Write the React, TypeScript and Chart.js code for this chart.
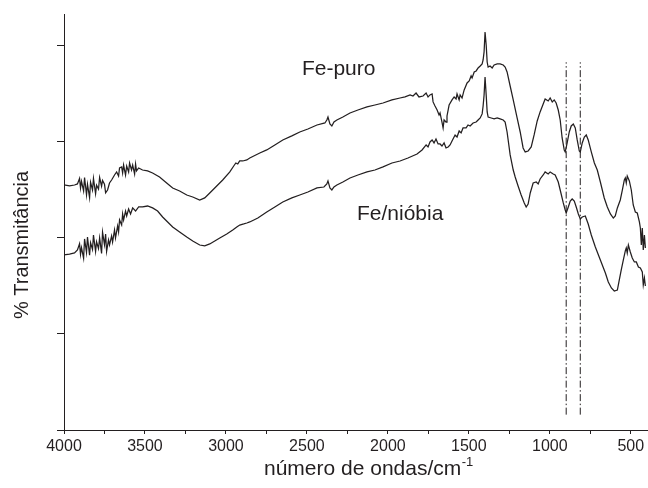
import React, { useEffect, useRef } from 'react';
import { Chart, registerables } from 'chart.js';

Chart.register(...registerables);

// Fe-puro spectrum (wavenumber, cm-1 / transmittance, arbitrary %)
const fePuroWn = [4000, 3966, 3935, 3917, 3904, 3898, 3892, 3879, 3873, 3861, 3855, 3842, 3836, 3824, 3818, 3805, 3799, 3787, 3780, 3768, 3762, 3750, 3743, 3731, 3719, 3706, 3688, 3675, 3663, 3657, 3644, 3638, 3632, 3620, 3613, 3601, 3595, 3583, 3576, 3564, 3558, 3552, 3539, 3515, 3484, 3453, 3410, 3366, 3329, 3286, 3242, 3205, 3162, 3131, 3100, 3057, 3020, 2976, 2952, 2939, 2927, 2915, 2896, 2871, 2853, 2791, 2748, 2698, 2649, 2593, 2544, 2494, 2438, 2389, 2377, 2370, 2358, 2346, 2333, 2315, 2278, 2234, 2185, 2129, 2080, 2030, 1975, 1925, 1894, 1863, 1845, 1826, 1808, 1783, 1764, 1752, 1740, 1727, 1721, 1709, 1696, 1684, 1678, 1666, 1659, 1653, 1641, 1635, 1622, 1604, 1591, 1579, 1573, 1560, 1554, 1542, 1529, 1511, 1498, 1486, 1480, 1467, 1455, 1443, 1430, 1418, 1412, 1406, 1400, 1393, 1387, 1381, 1369, 1356, 1344, 1325, 1307, 1288, 1276, 1264, 1245, 1226, 1202, 1183, 1165, 1152, 1134, 1115, 1097, 1078, 1060, 1041, 1029, 1010, 998, 985, 973, 961, 948, 936, 924, 911, 905, 893, 880, 868, 855, 843, 831, 818, 812, 800, 787, 775, 763, 744, 725, 707, 688, 664, 645, 626, 608, 596, 583, 565, 552, 540, 534, 528, 522, 509, 497, 485, 472, 460, 447, 441, 435, 429, 423, 416, 410];
const fePuroT = [25.52, 25.42, 25.52, 25.63, 26.2, 25.2, 25.9, 24.9, 26.3, 24.5, 25.6, 24.2, 25.8, 25.0, 26.2, 24.6, 25.5, 25.1, 26.3, 25.4, 26.0, 25.6, 24.7, 25.0, 25.73, 26.04, 26.56, 26.88, 26.46, 27.29, 27.4, 26.77, 27.6, 26.56, 27.5, 26.88, 27.81, 27.08, 27.6, 26.67, 27.71, 26.98, 27.29, 27.08, 26.98, 26.77, 26.35, 25.73, 25.21, 24.9, 24.48, 24.27, 23.96, 24.17, 24.69, 25.42, 26.04, 26.88, 27.5, 27.81, 27.71, 28.02, 28.02, 28.13, 28.33, 28.85, 29.17, 29.69, 30.21, 30.63, 31.04, 31.35, 31.77, 31.98, 32.29, 32.6, 31.88, 31.67, 32.08, 32.29, 32.6, 33.02, 33.33, 33.65, 33.85, 34.06, 34.38, 34.58, 34.69, 34.9, 34.79, 35.1, 34.69, 34.79, 35.1, 34.69, 34.9, 35.0, 34.17, 33.75, 33.33, 32.81, 33.02, 32.08, 31.46, 32.29, 32.08, 32.71, 33.85, 34.38, 34.69, 34.48, 35.0, 34.38, 34.9, 34.58, 35.42, 36.15, 36.35, 36.88, 36.67, 37.29, 37.4, 37.71, 37.92, 38.13, 38.54, 39.38, 41.46, 40.1, 38.33, 37.81, 37.92, 37.71, 38.02, 38.13, 38.13, 38.02, 37.81, 37.29, 35.83, 34.38, 32.5, 31.04, 29.38, 28.96, 29.06, 29.48, 30.73, 32.19, 33.13, 33.96, 34.48, 34.27, 34.58, 34.17, 34.38, 34.06, 33.33, 32.29, 30.42, 29.17, 28.96, 29.9, 31.04, 31.67, 31.88, 31.46, 30.21, 29.06, 28.96, 29.9, 30.52, 30.73, 30.21, 28.96, 27.81, 27.08, 25.83, 24.17, 23.23, 22.5, 22.08, 22.29, 23.13, 23.96, 25.0, 26.04, 26.25, 25.73, 26.46, 25.94, 25.0, 23.44, 22.71, 22.6, 21.67, 21.04, 19.27, 21.04, 18.75, 20.31, 18.96];

// Fe/nióbia spectrum
const feNiobiaWn = [4000, 3966, 3935, 3917, 3904, 3898, 3892, 3879, 3873, 3861, 3855, 3842, 3836, 3824, 3818, 3805, 3799, 3787, 3780, 3768, 3762, 3750, 3743, 3737, 3725, 3719, 3706, 3700, 3688, 3682, 3669, 3663, 3657, 3644, 3638, 3632, 3620, 3613, 3601, 3589, 3576, 3558, 3539, 3515, 3484, 3453, 3422, 3391, 3360, 3329, 3286, 3242, 3205, 3162, 3131, 3100, 3069, 3038, 2995, 2958, 2933, 2915, 2890, 2871, 2853, 2803, 2748, 2698, 2649, 2593, 2544, 2494, 2438, 2395, 2377, 2370, 2358, 2346, 2333, 2315, 2278, 2234, 2185, 2129, 2080, 2030, 1975, 1925, 1876, 1820, 1789, 1764, 1752, 1740, 1727, 1715, 1703, 1690, 1678, 1666, 1653, 1641, 1628, 1616, 1604, 1585, 1573, 1560, 1548, 1536, 1517, 1505, 1492, 1474, 1455, 1443, 1430, 1418, 1412, 1406, 1400, 1393, 1387, 1381, 1362, 1344, 1325, 1307, 1288, 1276, 1264, 1245, 1226, 1214, 1196, 1177, 1158, 1146, 1134, 1121, 1103, 1084, 1072, 1060, 1041, 1029, 1010, 998, 979, 967, 948, 936, 917, 905, 899, 886, 874, 862, 849, 837, 824, 812, 800, 781, 763, 744, 719, 688, 657, 639, 620, 602, 583, 571, 559, 546, 534, 528, 522, 515, 503, 491, 478, 466, 453, 441, 429, 423, 416, 410];
const feNiobiaT = [18.23, 18.33, 18.44, 18.75, 19.4, 18.3, 19.0, 17.9, 19.9, 18.5, 20.1, 18.2, 19.5, 18.8, 20.3, 18.6, 19.6, 18.9, 20.0, 18.4, 20.6, 19.3, 20.4, 18.6, 19.79, 19.27, 20.21, 19.58, 20.83, 20.0, 21.25, 20.63, 21.88, 21.35, 22.5, 21.88, 22.81, 22.29, 23.02, 22.5, 23.13, 22.81, 23.23, 23.23, 23.33, 23.13, 22.81, 22.19, 21.67, 21.15, 20.63, 20.1, 19.69, 19.27, 19.17, 19.38, 19.69, 20.0, 20.42, 20.83, 21.15, 21.35, 21.46, 21.56, 21.67, 22.08, 22.71, 23.23, 23.75, 24.17, 24.48, 24.79, 25.21, 25.31, 25.63, 25.94, 25.21, 25.0, 25.31, 25.52, 25.83, 26.25, 26.56, 26.88, 27.08, 27.4, 27.81, 28.02, 28.33, 28.75, 29.17, 29.69, 29.48, 30.0, 30.21, 29.9, 30.31, 29.79, 29.79, 29.58, 29.9, 29.38, 29.48, 29.69, 30.1, 30.73, 30.52, 31.15, 30.94, 31.46, 31.46, 31.77, 31.67, 31.98, 32.08, 32.29, 32.5, 32.92, 33.75, 34.9, 36.77, 34.9, 33.13, 32.6, 32.5, 32.4, 32.5, 32.4, 32.29, 32.08, 31.04, 28.65, 27.08, 26.35, 25.42, 24.48, 23.65, 23.23, 23.54, 24.69, 25.73, 25.83, 25.63, 26.15, 26.56, 26.88, 26.67, 26.88, 26.67, 26.56, 25.83, 25.0, 23.65, 22.92, 22.6, 23.23, 23.85, 24.06, 23.85, 23.23, 22.5, 21.98, 22.19, 22.29, 21.46, 20.31, 19.06, 17.71, 16.35, 15.42, 14.79, 14.48, 14.58, 15.63, 16.67, 17.71, 18.65, 18.96, 18.44, 19.27, 18.54, 17.92, 17.5, 17.5, 16.98, 16.88, 16.46, 15.1, 15.83, 15.0];

// Dash-dot reference lines
const markerWn = [899, 812];
const markerSpan = [1.6, 38.3];

// Axis settings
const xMin = 400;
const xMax = 4000;
const xTickValues = [4000, 3750, 3500, 3250, 3000, 2750, 2500, 2250, 2000, 1750, 1500, 1250, 1000, 750, 500];
const xLabelValues = [4000, 3500, 3000, 2500, 2000, 1500, 1000, 500];
const yMin = 0;
const yMax = 43.33;
const yTickValues = [0, 10, 20, 30, 40];

// Text
const xTitle = 'número de ondas/cm';
const xTitleSup = '-1';
const yTitle = '% Transmitância';
const seriesLabels = [
  { text: 'Fe-puro', wn: 2531, t: 36.93 },
  { text: 'Fe/nióbia', wn: 2191, t: 21.88 },
];

const INK = '#231f20';
const FONT = '"Liberation Sans", Arial, Helvetica, sans-serif';

const textPlugin = {
  id: 'textPlugin',
  afterDraw(chart: any) {
    const ctx = chart.ctx;
    const xs = chart.scales.x;
    const ys = chart.scales.y;
    const area = chart.chartArea;
    ctx.save();
    ctx.fillStyle = INK;
    ctx.textAlign = 'left';
    ctx.textBaseline = 'alphabetic';
    ctx.font = `21px ${FONT}`;
    for (const l of seriesLabels) {
      ctx.fillText(l.text, xs.getPixelForValue(l.wn), ys.getPixelForValue(l.t));
    }
    // x title with superscript
    ctx.font = `21px ${FONT}`;
    const wMain = ctx.measureText(xTitle).width;
    const x0 = area.left + 200;
    const base = area.bottom + 45;
    ctx.fillText(xTitle, x0, base);
    ctx.font = `13px ${FONT}`;
    ctx.fillText(xTitleSup, x0 + wMain + 0.5, base - 9);
    // y title
    ctx.font = `20px ${FONT}`;
    ctx.translate(area.left - 42, 245);
    ctx.rotate(-Math.PI / 2);
    ctx.textAlign = 'center';
    ctx.textBaseline = 'middle';
    ctx.fillText(yTitle, 0, 0);
    ctx.restore();
  },
};

export default function App() {
  const ref = useRef<HTMLCanvasElement | null>(null);
  useEffect(() => {
    if (!ref.current) return;
    const toPts = (xs: number[], ys: number[]) => xs.map((x, i) => ({ x, y: ys[i] }));
    const lineStyle = {
      borderColor: INK,
      borderWidth: 1.25,
      pointRadius: 0,
      tension: 0,
      fill: false,
    };
    const markers = markerWn.map((w) => ({
      data: [
        { x: w, y: markerSpan[0] },
        { x: w, y: markerSpan[1] },
      ],
      borderColor: INK,
      borderWidth: 1,
      borderDash: [7, 2.5, 1.5, 2.5],
      pointRadius: 0,
      fill: false,
    }));
    const chart = new Chart(ref.current, {
      type: 'line',
      data: {
        datasets: [
          { label: 'Fe-puro', data: toPts(fePuroWn, fePuroT), ...lineStyle },
          { label: 'Fe/nióbia', data: toPts(feNiobiaWn, feNiobiaT), ...lineStyle },
          ...markers,
        ],
      },
      options: {
        animation: false,
        responsive: false,
        devicePixelRatio: 1,
        layout: { padding: { top: 14, right: 1, left: 0, bottom: 0 } },
        plugins: { legend: { display: false }, tooltip: { enabled: false } },
        scales: {
          x: {
            type: 'linear',
            reverse: true,
            min: xMin,
            max: xMax,
            afterBuildTicks: (s: any) => {
              s.ticks = xTickValues.map((v) => ({ value: v }));
            },
            afterFit: (s: any) => {
              s.height = 58;
            },
            ticks: {
              autoSkip: false,
              maxRotation: 0,
              padding: 3,
              color: INK,
              font: { family: FONT, size: 16 },
              callback: (v: any) => (xLabelValues.includes(Number(v)) ? String(v) : ''),
            },
            grid: { drawOnChartArea: false, drawTicks: true, tickLength: 4, color: INK, lineWidth: 1 },
            border: { display: true, color: INK, width: 1 },
          },
          y: {
            min: yMin,
            max: yMax,
            afterBuildTicks: (s: any) => {
              s.ticks = yTickValues.map((v) => ({ value: v }));
            },
            afterFit: (s: any) => {
              s.width = 64;
            },
            ticks: { display: false },
            grid: { drawOnChartArea: false, drawTicks: true, tickLength: 7, color: INK, lineWidth: 1 },
            border: { display: true, color: INK, width: 1 },
          },
        },
      },
      plugins: [textPlugin],
    } as any);
    return () => chart.destroy();
  }, []);
  return (
    <div style={{ position: 'fixed', left: 0, top: 0, width: 648, height: 488, background: '#fff' }}>
      <canvas ref={ref} width={648} height={488} style={{ width: 648, height: 488 }} />
    </div>
  );
}
